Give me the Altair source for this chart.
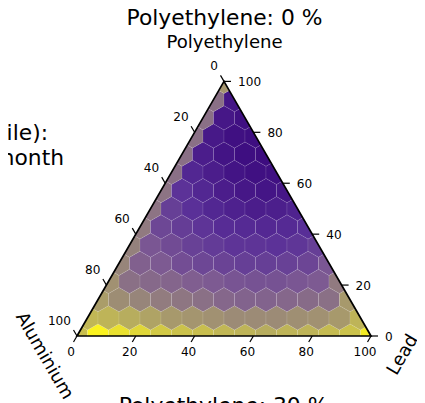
import math
import altair as alt
import pandas as pd

# ---- values (0 = deep purple, 1 = bright yellow), bottom row first
rows = [
    [.85, 1.0, .95, .92, .88, .86, .85, .83, .82, .80, .82, .82, .84, .86, .98],
    [.83, .82, .80, .75, .70, .68, .66, .63, .63, .63, .65, .66, .70, .82],
    [.72, .64, .60, .56, .53, .50, .46, .44, .44, .46, .48, .50, .70],
    [.66, .50, .47, .45, .42, .40, .37, .36, .36, .38, .40, .55],
    [.60, .43, .40, .34, .31, .29, .27, .27, .28, .30, .38],
    [.58, .38, .33, .28, .25, .22, .22, .21, .23, .27],
    [.55, .31, .26, .22, .18, .17, .16, .17, .19],
    [.52, .27, .20, .15, .12, .10, .11, .13],
    [.52, .21, .15, .10, .07, .06, .07],
    [.50, .15, .10, .05, .03, .03],
    [.50, .10, .05, .02, .01],
    [.50, .08, .03, .02],
    [.50, .07, .03],
    [.50, .06],
    [.68],
]
color_stops = [0, .2, .4, .6, .8, 1]
color_range = ["#3b0a7e", "#5a3098", "#7d5a92", "#97857a", "#b7ad5e", "#fbf31f"]
tick_values = [0, 20, 40, 60, 80, 100]
title_top = "Polyethylene: 0 %"
title_bottom = "Polyethylene: 30 %"
left_lines = ["tile):", "month"]
corner_names = ["Polyethylene", "Aluminium", "Lead"]

FONT = "DejaVu Sans"
W, H = 409, 395
PX = 2.94                # px per ternary unit
X0, Y0 = 77 - 8, 336 - 8  # chart position of the lower left corner
SQ = math.sqrt(3) / 2
STEP = 100 / 14
R = STEP / math.sqrt(3)
CORNERS = [(0, 0), (100, 0), (50, 100 * SQ)]


def clip(poly):
    out = poly
    for j in range(3):
        ax, ay = CORNERS[j]
        bx, by = CORNERS[(j + 1) % 3]
        side = lambda p: (bx - ax) * (p[1] - ay) - (by - ay) * (p[0] - ax)
        src, out = out, []
        for n, p in enumerate(src):
            q = src[(n + 1) % len(src)]
            sp, sq = side(p), side(q)
            if sp >= 0:
                out.append(p)
            if (sp >= 0) != (sq >= 0):
                t = sp / (sp - sq)
                out.append((p[0] + t * (q[0] - p[0]), p[1] + t * (q[1] - p[1])))
    return out


hex_rows = []
for k, row in enumerate(rows):
    for i, v in enumerate(row):
        cx, cy = STEP * (i + k / 2), STEP * k * SQ
        hexa = [(cx + R * math.sin(math.radians(60 * a)), cy + R * math.cos(math.radians(60 * a))) for a in range(6)]
        poly = clip(hexa[::-1])
        if not poly:
            continue
        poly = poly + [poly[0]]
        for n, (x, y) in enumerate(poly):
            hex_rows.append({"id": f"{k}-{i}", "ord": n, "x": x, "y": y, "v": v})
hex_df = pd.DataFrame(hex_rows)

xs = alt.Scale(domain=[-X0 / PX, (W - X0) / PX], nice=False, zero=False)
ys = alt.Scale(domain=[(Y0 - H) / PX, Y0 / PX], nice=False, zero=False)
X = lambda f="x": alt.X(f"{f}:Q", scale=xs, axis=None)
Y = lambda f="y": alt.Y(f"{f}:Q", scale=ys, axis=None)

hexes = alt.Chart(hex_df).mark_line(
    filled=True, stroke="white", strokeOpacity=0.16, strokeWidth=0.6, strokeJoin="round"
).encode(
    x=X(), y=Y(), detail="id:N", order="ord:Q",
    color=alt.Color("v:Q", scale=alt.Scale(domain=color_stops, range=color_range, interpolate="rgb"), legend=None),
)

tri_df = pd.DataFrame(
    [{"x": c[0], "y": c[1], "ord": n} for n, c in enumerate(CORNERS + CORNERS[:2])]
)
triangle = alt.Chart(tri_df).mark_line(color="black", strokeWidth=1.7, strokeJoin="miter").encode(
    x=X(), y=Y(), order="ord:Q"
)

L = 7 / PX
bottom = [dict(x=t, y=0, x2=t - L / 2, y2=-L * SQ, t=str(t)) for t in tick_values]
right = [dict(x=100 - t / 2, y=t * SQ, x2=100 - t / 2 + L, y2=t * SQ, t=str(t)) for t in tick_values]
left = [dict(x=(100 - t) / 2, y=(100 - t) * SQ, x2=(100 - t) / 2 - L / 2, y2=(100 - t) * SQ + L * SQ, t=str(t)) for t in tick_values]
tick_df = pd.DataFrame(bottom + right + left)
ticks = alt.Chart(tick_df).mark_rule(color="black", strokeWidth=1.2).encode(
    x=X(), y=Y(), x2="x2:Q", y2="y2:Q"
)


def tick_labels(data, **kw):
    return alt.Chart(pd.DataFrame(data)).mark_text(font=FONT, fontSize=12.1, color="black", baseline="middle", **kw).encode(
        x=X(), y=Y(), text="t:N"
    )


lab_b = tick_labels(bottom, align="center", dx=-6, dy=16)
lab_r = tick_labels(right, align="left", dx=14, dy=0.5)
lab_l = tick_labels(left, align="right", dx=-6, dy=-15.5)


def note(text, px, py, size, align="center", angle=0):
    kw = {"angle": angle} if angle else {}
    return alt.Chart(pd.DataFrame({"t": [text]})).mark_text(
        font=FONT, fontSize=size, color="black", align=align, baseline="middle", **kw
    ).encode(x=alt.value(px - 8), y=alt.value(py - 8), text="t:N")


notes = [
    note(title_top, 224.5, 18, 21.8),
    note(corner_names[0], 224.5, 43, 18.1),
    note(corner_names[1], 44, 356, 18.1, angle=60),
    note(corner_names[2], 403, 355, 18.1, angle=300),
    note(title_bottom, 223.5, 406, 21.8),
    note(left_lines[0], 48, 133, 21.8, align="right"),
    note(left_lines[1], 64, 158, 21.8, align="right"),
]

chart = alt.layer(hexes, triangle, ticks, lab_b, lab_r, lab_l, *notes).properties(
    width=W, height=H, padding=0, autosize=alt.AutoSizeParams(type="none")
).configure_view(stroke=None)

chart.save("out.html", embed_options={"renderer": "svg", "actions": False})
